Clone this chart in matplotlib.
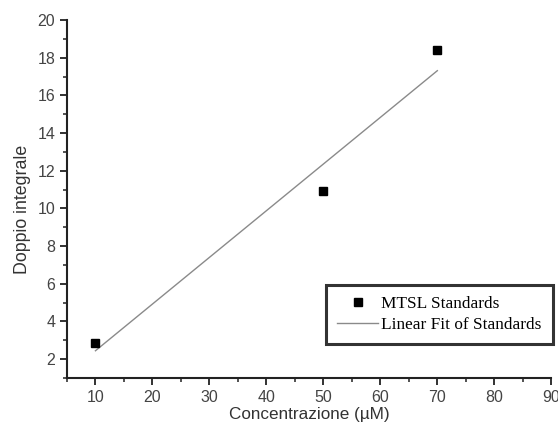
import matplotlib
matplotlib.use("Agg")
import matplotlib.pyplot as plt
from matplotlib.ticker import MultipleLocator

# MTSL standards
conc = [10, 50, 70]
doppio = [2.83, 10.93, 18.41]

# linear fit line, end points
fit_x = [10, 70]
fit_y = [2.44, 17.31]

plt.rcParams['font.family'] = ['Liberation Sans', 'DejaVu Sans']

fig = plt.figure(figsize=(5.58, 4.26), dpi=100)
ax = fig.add_axes([0.120, 0.113, 0.868, 0.840])

ax.plot(conc, doppio, 's', color='black', markersize=5.5, label='MTSL Standards', zorder=3)
ax.plot(fit_x, fit_y, '-', color='#8a8a8a', lw=1.0, label='Linear Fit of Standards')

ax.set_xlim(5, 90)
ax.set_ylim(1, 20)
ax.xaxis.set_major_locator(MultipleLocator(10))
ax.xaxis.set_minor_locator(MultipleLocator(5))
ax.yaxis.set_major_locator(MultipleLocator(2))
ax.yaxis.set_minor_locator(MultipleLocator(1))

for side in ['top', 'right']:
    ax.spines[side].set_visible(False)
for side in ['left', 'bottom']:
    ax.spines[side].set_linewidth(1.5)
    ax.spines[side].set_color('#222222')

ax.tick_params(which='major', direction='out', length=5, width=1.3, labelsize=11.5,
               labelcolor='#444444', color='#222222')
ax.tick_params(which='minor', direction='out', length=3, width=1.1, color='#222222')

ax.set_xlabel('Concentrazione (µM)', fontsize=12.3, color='#333333', labelpad=2)
ax.set_ylabel('Doppio integrale', fontsize=12.8, color='#333333')
ax.yaxis.set_label_coords(-0.074, 0.47)

leg = ax.legend(loc='lower right', bbox_to_anchor=(1.003, 0.095), frameon=True, fancybox=False,
                prop={'family': 'Liberation Serif', 'size': 12.4}, handlelength=2.35,
                borderpad=0.65, labelspacing=0.25, handletextpad=0.2, numpoints=1,
                borderaxespad=0.0)
leg.get_frame().set_edgecolor('black')
leg.get_frame().set_linewidth(2.2)

fig.savefig('out.png', dpi=100)
